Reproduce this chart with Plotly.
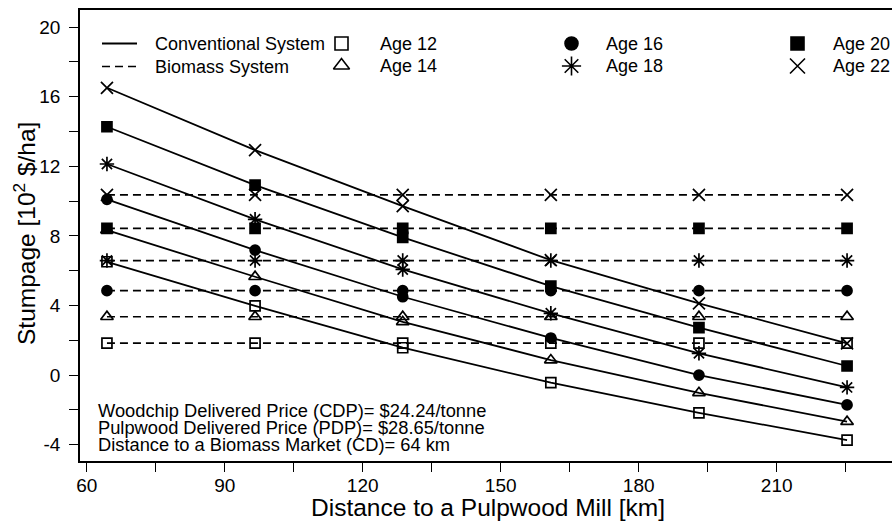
import plotly.graph_objects as go

# ---------------- data ----------------
distance_km = [64.4, 96.6, 128.7, 160.9, 193.1, 225.3]
ages = ["Age 12", "Age 14", "Age 16", "Age 18", "Age 20", "Age 22"]

conv_age12 = [6.51, 3.97, 1.57, -0.44, -2.17, -3.74]
conv_age14 = [8.33, 5.65, 3.06, 0.86, -1.02, -2.68]
conv_age16 = [10.10, 7.18, 4.50, 2.13, 0.00, -1.72]
conv_age18 = [12.13, 8.95, 6.07, 3.55, 1.25, -0.71]
conv_age20 = [14.27, 10.92, 7.91, 5.11, 2.72, 0.52]
conv_age22 = [16.51, 12.93, 9.71, 6.60, 4.12, 1.82]

bio_age12 = [1.83, 1.83, 1.83, 1.83, 1.83, 1.83]
bio_age14 = [3.35, 3.35, 3.35, 3.35, 3.35, 3.35]
bio_age16 = [4.85, 4.85, 4.85, 4.85, 4.85, 4.85]
bio_age18 = [6.58, 6.58, 6.58, 6.58, 6.58, 6.58]
bio_age20 = [8.43, 8.43, 8.43, 8.43, 8.43, 8.43]
bio_age22 = [10.36, 10.36, 10.36, 10.36, 10.36, 10.36]

x_tickvals = [60, 90, 120, 150, 180, 210]
x_ticktext = ["60", "90", "120", "150", "180", "210"]
y_tickvals = [-4, 0, 4, 8, 12, 16, 20]
y_ticktext = ["-4", "0", "4", "8", "12", "16", "20"]

note_lines = [
    "Woodchip Delivered Price (CDP)= $24.24/tonne",
    "Pulpwood Delivered Price (PDP)= $28.65/tonne",
    "Distance to a Biomass Market (CD)= 64 km",
]

# ---------------- style ----------------
FONT = "Liberation Sans, Arial, sans-serif"
W, H = 892, 521
ML, MR, MT, MB = 80, 0, 10, 60
PW, PH = W - ML - MR, H - MT - MB

symbols = ["square-open", "triangle-up-open", "circle", "asterisk-open", "square", "x-thin-open"]
sizes = [10, 11, 10, 12, 10, 12]
legend_sizes = [13, 14, 13, 16, 13, 15]

conv = [conv_age12, conv_age14, conv_age16, conv_age18, conv_age20, conv_age22]
bio = [bio_age12, bio_age14, bio_age16, bio_age18, bio_age20, bio_age22]

fig = go.Figure()

for i in range(6):
    mk = dict(symbol=symbols[i], size=sizes[i], color="black",
              line=dict(color="black", width=1.7))
    fig.add_trace(go.Scatter(x=distance_km, y=bio[i], mode="lines+markers",
                             line=dict(color="black", width=1.7, dash="8px,5px"),
                             marker=mk, showlegend=False, name=ages[i] + " biomass"))
    fig.add_trace(go.Scatter(x=distance_km, y=conv[i], mode="lines+markers",
                             line=dict(color="black", width=1.8),
                             marker=mk, showlegend=False, name=ages[i] + " conventional"))

# ---------------- manual legend (pixel overlay axes) ----------------
leg_sym_x = [341.5, 341.5, 571.5, 571.5, 797.5, 797.5]
leg_sym_y = [43.5, 65.5, 43.5, 66.0, 43.5, 66.0]
leg_txt_x = [378, 378, 604, 604, 830.5, 830.5]
for i in range(6):
    fig.add_trace(go.Scatter(x=[leg_sym_x[i]], y=[leg_sym_y[i]], mode="markers",
                             xaxis="x2", yaxis="y2", showlegend=False, hoverinfo="skip",
                             marker=dict(symbol=symbols[i], size=legend_sizes[i], color="black",
                                         line=dict(color="black", width=1.6))))

fig.add_trace(go.Scatter(x=[102, 137], y=[43.5, 43.5], mode="lines", xaxis="x2", yaxis="y2",
                         line=dict(color="black", width=1.8), showlegend=False, hoverinfo="skip"))
fig.add_trace(go.Scatter(x=[102, 137], y=[66.5, 66.5], mode="lines", xaxis="x2", yaxis="y2",
                         line=dict(color="black", width=1.7, dash="8px,5px"), showlegend=False,
                         hoverinfo="skip"))

annotations = []
def txt(x, y, s, size=18, xanchor="left", angle=0):
    annotations.append(dict(x=x, y=y, xref="x2", yref="y2", text=s, showarrow=False,
                            xanchor=xanchor, yanchor="middle", textangle=angle,
                            font=dict(family=FONT, size=size, color="black")))

def ptxt(px, py, s, size=22, angle=0):
    annotations.append(dict(x=(px - ML) / PW, y=(H - MB - py) / PH, xref="paper", yref="paper",
                            text=s, showarrow=False, xanchor="center", yanchor="middle",
                            textangle=angle, font=dict(family=FONT, size=size, color="black")))

txt(153, 43.5, "Conventional System")
txt(153, 66.5, "Biomass System")
for i in range(6):
    txt(leg_txt_x[i], leg_sym_y[i], ages[i])

note_y = [410, 427, 444]
for s, yy in zip(note_lines, note_y):
    txt(96, yy, s, size=18.3)

ptxt(488, 507, "Distance to a Pulpwood Mill [km]", size=24.5)
ptxt(24, 234, "Stumpage [10<sup>2</sup> $/ha]", size=24.5, angle=-90)

fig.update_layout(
    width=W, height=H,
    margin=dict(l=ML, r=MR, t=MT, b=MB, pad=0),
    paper_bgcolor="white", plot_bgcolor="white",
    font=dict(family=FONT, size=18, color="black"),
    showlegend=False,
    annotations=annotations,
    xaxis=dict(range=[58.54, 235.07], showgrid=False, zeroline=False,
               showline=True, linecolor="black", linewidth=1.5, mirror=True,
               ticks="outside", ticklen=9, tickwidth=1, tickcolor="black",
               tickmode="array", tickvals=x_tickvals, ticktext=x_ticktext,
               tickfont=dict(family=FONT, size=19), ticklabelstandoff=-3,
               minor=dict(dtick=15, tick0=60, ticks="outside", ticklen=9,
                          tickwidth=1, tickcolor="black", showgrid=False)),
    yaxis=dict(range=[-4.94, 20.98], showgrid=False, zeroline=False,
               showline=True, linecolor="black", linewidth=1.5,
               ticks="outside", ticklen=9, tickwidth=1, tickcolor="black",
               tickmode="array", tickvals=y_tickvals, ticktext=y_ticktext,
               tickfont=dict(family=FONT, size=19), ticklabelstandoff=5,
               minor=dict(dtick=2, tick0=0, ticks="outside", ticklen=9,
                          tickwidth=1, tickcolor="black", showgrid=False)),
    xaxis2=dict(overlaying="x", range=[ML, W - MR], visible=False, fixedrange=True),
    yaxis2=dict(overlaying="y", range=[H - MB, MT], visible=False, fixedrange=True),
)

fig.write_html("out.html", config={"displayModeBar": False},
               post_script="document.body.style.margin='0';document.body.style.overflow='hidden';")
